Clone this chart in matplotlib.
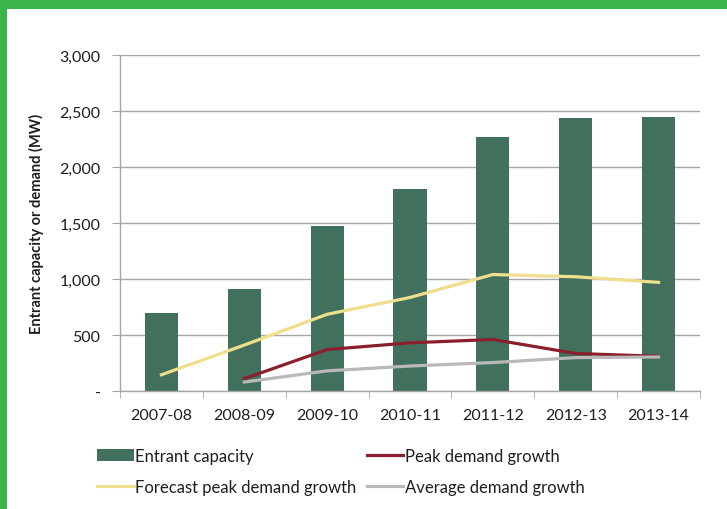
import matplotlib
matplotlib.use("Agg")
import matplotlib.pyplot as plt
from matplotlib.patches import Rectangle
import numpy as np

years = ["2007-08", "2008-09", "2009-10", "2010-11", "2011-12", "2012-13", "2013-14"]
entrant_capacity = [700, 915, 1470, 1800, 2270, 2435, 2445]
forecast_peak = [145, 410, 685, 835, 1040, 1020, 970]
peak_growth = [None, 110, 370, 430, 460, 335, 310]
avg_growth = [None, 80, 180, 223, 254, 298, 304]
yticks = [0, 500, 1000, 1500, 2000, 2500, 3000]
ytick_labels = ["-", "500", "1,000", "1,500", "2,000", "2,500", "3,000"]

BAR = "#41705C"
YELLOW = "#EFDF8C"
RED = "#8C1F2E"
GREY = "#B9B9B9"
AXIS = "#A6A6A6"
TEXT = "#1E1E1E"

plt.rcParams["font.family"] = ["Lato", "DejaVu Sans"]

fig = plt.figure(figsize=(7.27, 5.10), dpi=100)
fig.patch.set_facecolor("#3BB54A")
# white card inside the green frame
fig.patches.append(Rectangle((7 / 727, 0), 720 / 727, 500 / 510,
                             transform=fig.transFigure, facecolor="white",
                             edgecolor="none", zorder=-10))

ax = fig.add_axes([120 / 727, (510 - 392) / 510, 580 / 727, 336 / 510])
ax.set_facecolor("none")
ax.set_zorder(5)
x = np.arange(len(years))

ax.bar(x, entrant_capacity, width=0.4, color=BAR, label="Entrant capacity", zorder=2)

def series(vals):
    xs = [i for i, v in enumerate(vals) if v is not None]
    return xs, [vals[i] for i in xs]

fx, fy = series(forecast_peak)
px, py = series(peak_growth)
gx, gy = series(avg_growth)
ax.plot(fx, fy, color=YELLOW, lw=2.3, label="Forecast peak demand growth", zorder=3)
ax.plot(px, py, color=RED, lw=2.3, label="Peak demand growth", zorder=3)
ax.plot(gx, gy, color=GREY, lw=2.3, label="Average demand growth", zorder=3)

ax.set_xlim(-0.5, 6.5)
ax.set_ylim(0, 3000)
ax.set_yticks(yticks)
ax.set_yticklabels(ytick_labels)
ax.yaxis.grid(True, color=AXIS, lw=1.0)
ax.set_axisbelow(True)

ax.set_xticks(x)
ax.set_xticklabels(years)
ax.set_xticks(np.arange(-0.5, 7, 1), minor=True)
ax.tick_params(axis="x", which="major", length=0, pad=12, labelsize=11.5, colors=TEXT)
ax.tick_params(axis="x", which="minor", length=5, color=AXIS, direction="out")
ax.tick_params(axis="y", length=6, color=AXIS, pad=8, labelsize=11.5, labelcolor=TEXT)

for s in ["top", "right"]:
    ax.spines[s].set_visible(False)
for s in ["left", "bottom"]:
    ax.spines[s].set_color(AXIS)
    ax.spines[s].set_linewidth(1.0)

ax.set_ylabel("Entrant capacity or demand (MW)", fontsize=10.5, fontweight="bold",
              color=TEXT, labelpad=11)

h, l = ax.get_legend_handles_labels()
order = [l.index("Entrant capacity"), l.index("Forecast peak demand growth"),
         l.index("Peak demand growth"), l.index("Average demand growth")]
leg = ax.legend([h[i] for i in order], [l[i] for i in order], ncol=2,
                loc="upper left", bbox_to_anchor=(-0.051, -0.15), frameon=False,
                fontsize=12, handlelength=2.2, handletextpad=0.1, columnspacing=0.6,
                labelspacing=0.9, borderaxespad=0)
for t in leg.get_texts():
    t.set_color(TEXT)

fig.savefig("out.png", dpi=100)
